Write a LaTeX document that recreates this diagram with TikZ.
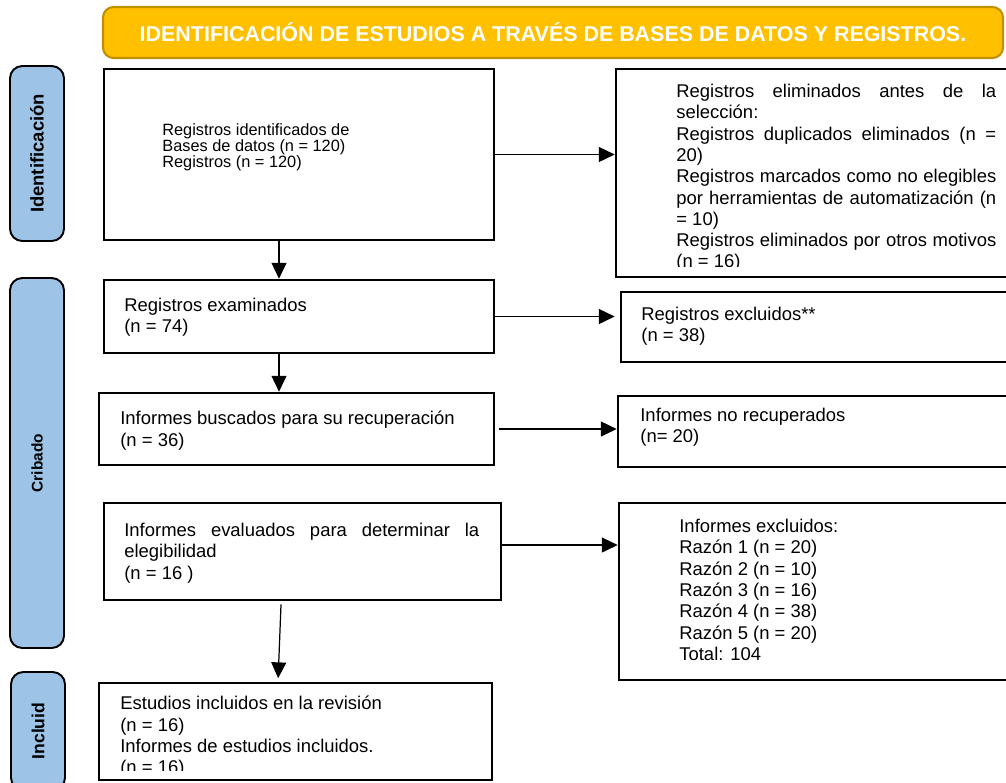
\documentclass[tikz,border=0pt]{standalone}
\usepackage{fontspec}
\setmainfont{Liberation Sans}
\usetikzlibrary{arrows.meta,fit}

\definecolor{titfondo}{RGB}{255,192,0}
\definecolor{titborde}{RGB}{191,144,0}
\definecolor{fasecolor}{RGB}{157,195,230}

\begin{document}
\begin{tikzpicture}[x=0.02cm, y=-0.02cm,
    caja/.style={draw, line width=1.5pt, inner sep=0pt},
    fase/.style={draw, line width=1.1pt, rounded corners=7pt, fill=fasecolor, inner sep=0pt},
    fasetexto/.style={rotate=90, inner sep=0pt},
    texto/.style={anchor=north west, inner sep=0pt, align=left, font=\fontsize{10.5}{12.1}\selectfont},
    flecha/.style={line width=0.7pt, -{Triangle[length=9pt, width=8.5pt]}}]

        \useasboundingbox (0,0) rectangle (1006,782);
        \clip (0,0) rectangle (1006,782);

        % title bar
        \node [fit={(103,7) (1003,58)}, draw=titborde, line width=1.2pt, fill=titfondo,
               rounded corners=6pt, inner sep=0pt] (titulo) {};
        \node [text=white, inner sep=0pt, font=\fontsize{12.2}{14}\selectfont\bfseries] (tittexto) at (titulo.center)
              {IDENTIFICACIÓN DE ESTUDIOS A TRAVÉS DE BASES DE DATOS Y REGISTROS.};

        % phases on the left
        \node [fase, fit={(10,66) (64,241)}] (fidentif) {};
        \node [fase, fit={(10,278) (64,648)}] (fcribado) {};
        \node [fase, fit={(11,672) (65,790)}] (fincluid) {};
        \node [fasetexto, font=\fontsize{10.5}{12}\selectfont\bfseries] (tidentif) at (fidentif.center) {Identificación};
        \node [fasetexto, font=\fontsize{8.8}{10}\selectfont\bfseries] (tcribado) at (fcribado.center) {Cribado};
        \node [fasetexto, font=\fontsize{10}{12}\selectfont\bfseries] (tincluid) at (fincluid.center) {Incluid};

        % boxes, left column
        \node [caja, fit={(104,69) (494,240)}] (regid) {};
        \node [caja, fit={(104,280) (494,353)}] (regexam) {};
        \node [caja, fit={(99,393) (494,465)}] (infbus) {};
        \node [caja, fit={(104,503) (501,600)}] (infeval) {};
        \node [caja, fit={(99,683) (492,780)}] (estinc) {};

        % boxes, right column
        \node [caja, fit={(616,69) (1012,277)}] (regelim) {};
        \node [caja, fit={(621,292) (1012,362)}] (regexcl) {};
        \node [caja, fit={(618,396) (1012,467)}] (infnorec) {};
        \node [caja, fit={(619,503) (1012,680)}] (infexcl) {};

        % texts
        \node [texto, font=\fontsize{9.3}{9.3}\selectfont] (regidtxt) at (162,123)
              {Registros identificados de\\Bases de datos (n = 120)\\Registros (n = 120)};
        \node [texto] (regexamtxt) at (124,298) {Registros examinados\\(n = 74)};
        \node [texto] (infbustxt) at (120,411) {Informes buscados para su recuperación\\(n = 36)};
        \node [texto, text width=7.1cm, align=justify] (infevaltxt) at (124,523)
              {Informes evaluados para determinar la\linebreak elegibilidad\\(n = 16 )};
        \begin{scope}
          \clip (99,683) rectangle (492,770);
          \node [texto] (estinctxt) at (120,696)
                {Estudios incluidos en la revisión\\(n = 16)\\Informes de estudios incluidos.\\(n = 16)};
        \end{scope}

        \begin{scope}
          \clip (616,69) rectangle (1006,266);
          \node [texto, text width=6.4cm, align=justify] (regelimtxt) at (676,84)
                {Registros eliminados antes de la\linebreak selección:\\
                 Registros duplicados eliminados (n =\linebreak 20)\\
                 Registros marcados como no elegibles\linebreak por herramientas de automatización (n\linebreak = 10)\\
                 Registros eliminados por otros motivos\linebreak (n = 16)};
        \end{scope}
        \node [texto] (regexcltxt) at (641,307) {Registros excluidos**\\(n = 38)};
        \node [texto] (infnorectxt) at (640,408) {Informes no recuperados\\(n= 20)};
        \node [texto] (infexcltxt) at (679,519)
              {Informes excluidos:\\Razón 1 (n = 20)\\Razón 2 (n = 10)\\Razón 3 (n = 16)\\Razón 4 (n = 38)\\Razón 5 (n = 20)\\Total: 104};

        % arrows down
        \draw [flecha] ([xshift=-0.4cm]regid.south) -- ([xshift=-0.4cm]regid.south |- regexam.north);
        \draw [flecha] ([xshift=-0.4cm]regexam.south) -- ([xshift=-0.4cm]regexam.south |- infbus.north);
        \draw [flecha, shorten >=2pt] ([xshift=-0.43cm, yshift=-0.06cm]infeval.south) -- ([xshift=-0.35cm]estinc.north);

        % arrows right
        \draw [flecha] (regid.east) -- (regid.east -| regelim.west);
        \draw [flecha] (regexam.east) -- ([xshift=-0.1cm]regexam.east -| regexcl.west);
        \draw [flecha] ([xshift=0.08cm]infbus.east) -- (infbus.east -| infnorec.west);
        \draw [flecha] ([yshift=0.13cm]infeval.east) -- ([yshift=0.13cm]infeval.east -| infexcl.west);
      \end{tikzpicture}
\end{document}
